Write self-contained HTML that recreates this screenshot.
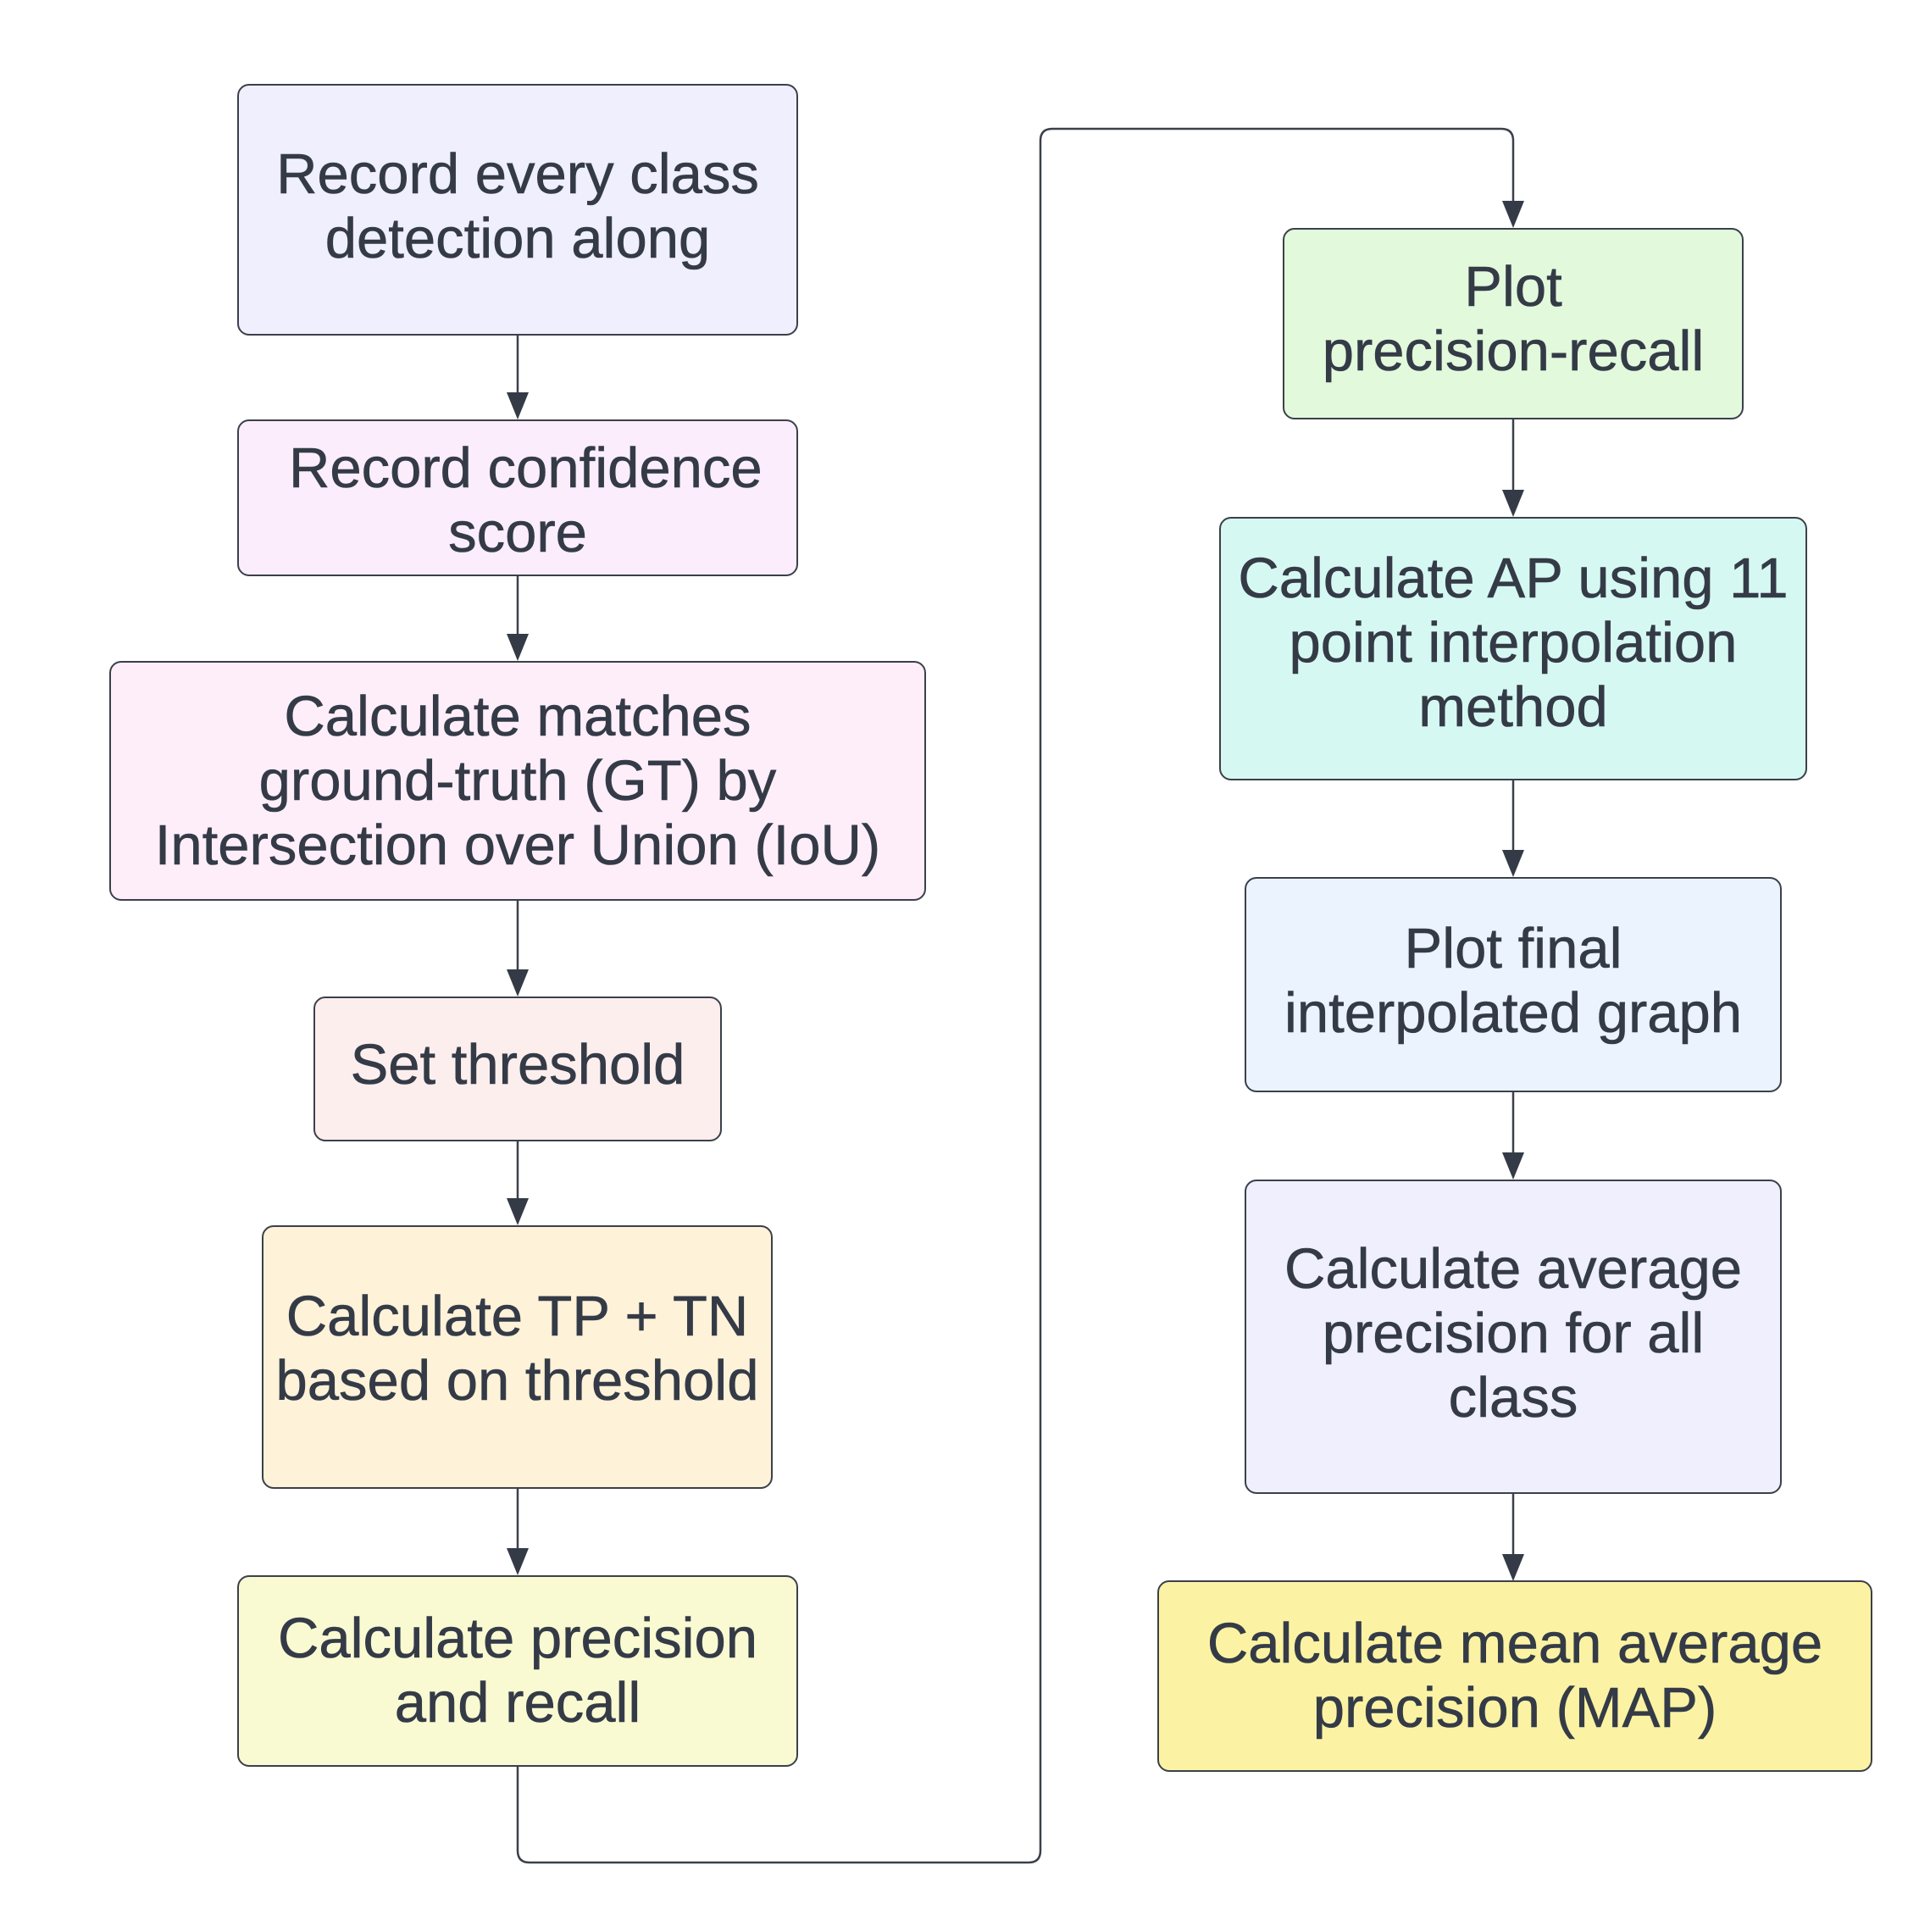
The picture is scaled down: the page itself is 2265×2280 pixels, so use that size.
<!DOCTYPE html>
<html><head><meta charset="utf-8"><style>
html,body{margin:0;padding:0;background:#fff}
body{width:2265px;height:2280px;position:relative;overflow:hidden;font-family:"Liberation Sans",sans-serif}
.b{position:absolute;box-sizing:border-box;border:2.5px solid #3b404a;border-radius:14px;display:flex;align-items:center;justify-content:center;text-align:center;font-size:67px;line-height:76px;color:#343b47;-webkit-text-stroke:0.6px #343b47;white-space:nowrap}
svg{position:absolute;left:0;top:0}
</style></head><body>
<svg width="2265" height="2280" viewBox="0 0 2265 2280">
<g stroke="#3b404a" stroke-width="2.5" fill="none">
<line x1="611" y1="396" x2="611" y2="465"/>
<line x1="611" y1="680" x2="611" y2="750"/>
<line x1="611" y1="1063" x2="611" y2="1146"/>
<line x1="611" y1="1347" x2="611" y2="1416"/>
<line x1="611" y1="1757" x2="611" y2="1829"/>
<path d="M611 2085 V2184 Q611 2198 625 2198 H1214 Q1228 2198 1228 2184 V166 Q1228 152 1242 152 H1772 Q1786 152 1786 166 V239"/>
<line x1="1786" y1="495" x2="1786" y2="580"/>
<line x1="1786" y1="921" x2="1786" y2="1005"/>
<line x1="1786" y1="1289" x2="1786" y2="1362"/>
<line x1="1786" y1="1763" x2="1786" y2="1836"/>
</g>
<g fill="#343b47">
<polygon points="598,463 624,463 611,495"/>
<polygon points="598,748 624,748 611,780"/>
<polygon points="598,1144 624,1144 611,1176"/>
<polygon points="598,1414 624,1414 611,1446"/>
<polygon points="598,1827 624,1827 611,1859"/>
<polygon points="1773,237 1799,237 1786,269"/>
<polygon points="1773,578 1799,578 1786,610"/>
<polygon points="1773,1003 1799,1003 1786,1035"/>
<polygon points="1773,1360 1799,1360 1786,1392"/>
<polygon points="1773,1834 1799,1834 1786,1866"/>
</g>
</svg>
<div class="b" style="left:280px;top:99px;width:662px;height:297px;background:#efeffd;padding-bottom:8px">Record every class<br>detection along</div>
<div class="b" style="left:280px;top:495px;width:662px;height:185px;background:#fbedfb;padding-top:6px">&nbsp;Record confidence<br>score</div>
<div class="b" style="left:129px;top:780px;width:964px;height:283px;background:#fdeefa">Calculate matches<br>ground-truth (GT) by<br>Intersection over Union (IoU)</div>
<div class="b" style="left:370px;top:1176px;width:482px;height:171px;background:#fdeeee;padding-bottom:10px">Set threshold</div>
<div class="b" style="left:309px;top:1446px;width:603px;height:311px;background:#fef2d8;padding-bottom:20px">Calculate TP + TN<br>based on threshold</div>
<div class="b" style="left:280px;top:1859px;width:662px;height:226px;background:#fafad2">Calculate precision<br>and recall</div>
<div class="b" style="left:1514px;top:269px;width:544px;height:226px;background:#e2f9dc;padding-bottom:10px">Plot<br>precision-recall</div>
<div class="b" style="left:1439px;top:610px;width:694px;height:311px;background:#d6f8f2;padding-bottom:14px">Calculate AP using 11<br>point interpolation<br>method</div>
<div class="b" style="left:1469px;top:1035px;width:634px;height:254px;background:#eaf3fe;padding-bottom:8px">Plot final<br>interpolated graph</div>
<div class="b" style="left:1469px;top:1392px;width:634px;height:371px;background:#efeffd;padding-bottom:8px">Calculate average<br>precision for all<br>class</div>
<div class="b" style="left:1366px;top:1865px;width:844px;height:226px;background:#fbf3a3">Calculate mean average<br>precision (MAP)</div>
</body></html>
